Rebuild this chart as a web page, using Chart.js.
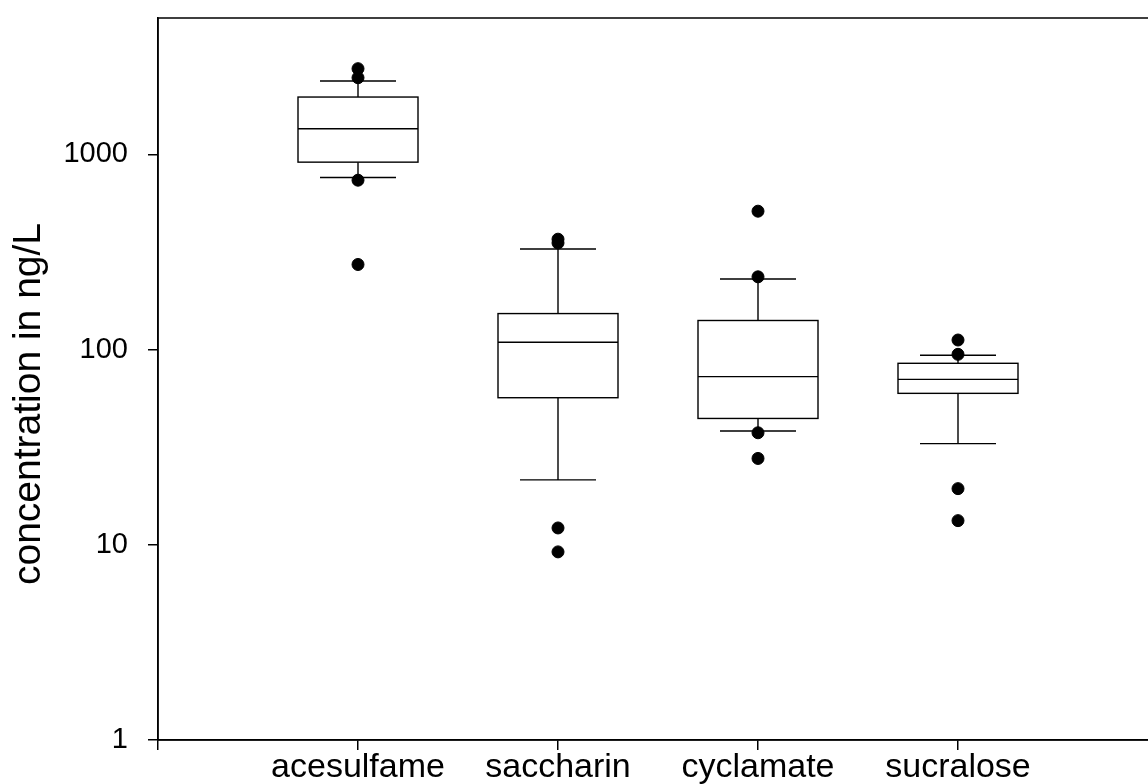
<!DOCTYPE html>
<html>
<head>
<meta charset="utf-8">
<script src="https://cdn.jsdelivr.net/npm/chart.js@4/dist/chart.umd.min.js"></script>
<style>
  html, body { margin: 0; padding: 0; background: #fff; overflow: hidden; }
  #wrap { width: 1170px; height: 784px; }
</style>
</head>
<body>
<div id="wrap"><canvas id="chart"></canvas></div>
<script>
// categorias e estatísticas do boxplot (ng/L)
const categories = ['acesulfame', 'saccharin', 'cyclamate', 'sucralose'];
const whiskerLow = [762, 21.5, 38.3, 33.0];
const q1 = [913, 56.7, 44.4, 59.7];
const median = [1355, 109, 72.7, 70.4];
const q3 = [1968, 153, 141, 85.1];
const whiskerHigh = [2376, 328, 230, 93.5];
const outliers = [
    [2750, 2472, 738, 273],
    [368, 352, 12.2, 9.2],
    [512, 236, 37.5, 27.7],
    [112, 94.6, 19.4, 13.3]
];
const yTicks = [1, 10, 100, 1000];
const yTitle = 'concentration in ng/L';

const outlierPoints = [];
outliers.forEach((list, i) => list.forEach(v => outlierPoints.push({ x: i + 1, y: v })));

// desenha caixas e bigodes usando as escalas do gráfico
const boxPlugin = {
    id: 'boxes',
    beforeDatasetsDraw(chart) {
        const ctx = chart.ctx;
        const xs = chart.scales.x, ys = chart.scales.y;
        ctx.save();
        ctx.strokeStyle = '#000';
        ctx.fillStyle = '#fff';
        ctx.lineWidth = 1.4;
        categories.forEach((c, i) => {
            const cx = xs.getPixelForValue(i + 1);
            const bw = xs.getPixelForValue(i + 1.3) - cx;
            const cw = xs.getPixelForValue(i + 1.19) - cx;
            const yLo = ys.getPixelForValue(whiskerLow[i]);
            const yQ1 = ys.getPixelForValue(q1[i]);
            const yMed = ys.getPixelForValue(median[i]);
            const yQ3 = ys.getPixelForValue(q3[i]);
            const yHi = ys.getPixelForValue(whiskerHigh[i]);
            ctx.beginPath();
            ctx.moveTo(cx, yQ1); ctx.lineTo(cx, yLo);
            ctx.moveTo(cx - cw, yLo); ctx.lineTo(cx + cw, yLo);
            ctx.moveTo(cx, yQ3); ctx.lineTo(cx, yHi);
            ctx.moveTo(cx - cw, yHi); ctx.lineTo(cx + cw, yHi);
            ctx.stroke();
            ctx.fillRect(cx - bw, yQ3, 2 * bw, yQ1 - yQ3);
            ctx.strokeRect(cx - bw, yQ3, 2 * bw, yQ1 - yQ3);
            ctx.beginPath();
            ctx.moveTo(cx - bw, yMed); ctx.lineTo(cx + bw, yMed);
            ctx.stroke();
        });
        ctx.restore();
    },
    afterDraw(chart) {
        const ctx = chart.ctx;
        const a = chart.chartArea;
        ctx.save();
        ctx.strokeStyle = '#000';
        ctx.lineWidth = 1.5;
        ctx.strokeRect(a.left, a.top, a.right - a.left, a.bottom - a.top);
        // título do eixo y
        ctx.translate(40, 404);
        ctx.rotate(-Math.PI / 2);
        ctx.fillStyle = '#000';
        ctx.font = '39px "Liberation Sans", Arial, sans-serif';
        ctx.textAlign = 'center';
        ctx.textBaseline = 'alphabetic';
        ctx.fillText(yTitle, 0, 0);
        ctx.restore();
    }
};

new Chart(document.getElementById('chart'), {
    type: 'scatter',
    data: {
        datasets: [{
            data: outlierPoints,
            backgroundColor: '#000',
            borderColor: '#000',
            pointRadius: 6,
            pointHoverRadius: 6
        }]
    },
    options: {
        responsive: true,
        maintainAspectRatio: false,
        animation: false,
        events: [],
        layout: { padding: { top: 18, right: 12, left: 0, bottom: 0 } },
        plugins: { legend: { display: false }, tooltip: { enabled: false } },
        scales: {
            x: {
                type: 'linear',
                min: 0,
                max: 5,
                afterFit: s => { s.height = 44; s.paddingLeft = 0; s.paddingRight = 0; },
                afterBuildTicks: s => { s.ticks = [0, 1, 2, 3, 4, 5].map(v => ({ value: v })); },
                ticks: {
                    callback: v => categories[v - 1] || '',
                    color: '#000',
                    font: { family: '"Liberation Sans", Arial, sans-serif', size: 34 },
                    maxRotation: 0,
                    autoSkip: false,
                    padding: -3
                },
                grid: { drawOnChartArea: false, tickLength: 10, color: '#000', lineWidth: 1.5 },
                border: { color: '#000', width: 1.5 }
            },
            y: {
                type: 'logarithmic',
                min: 1,
                max: 5000,
                afterFit: s => { s.width = 158; s.paddingTop = 0; s.paddingBottom = 0; },
                afterBuildTicks: s => { s.ticks = yTicks.map(v => ({ value: v })); },
                ticks: {
                    callback: v => String(v),
                    color: '#000',
                    font: { family: '"Liberation Sans", Arial, sans-serif', size: 29 },
                    padding: 20
                },
                grid: { drawOnChartArea: false, tickLength: 10, color: '#000', lineWidth: 1.5 },
                border: { color: '#000', width: 1.5 }
            }
        }
    },
    plugins: [boxPlugin]
});
</script>
</body>
</html>
